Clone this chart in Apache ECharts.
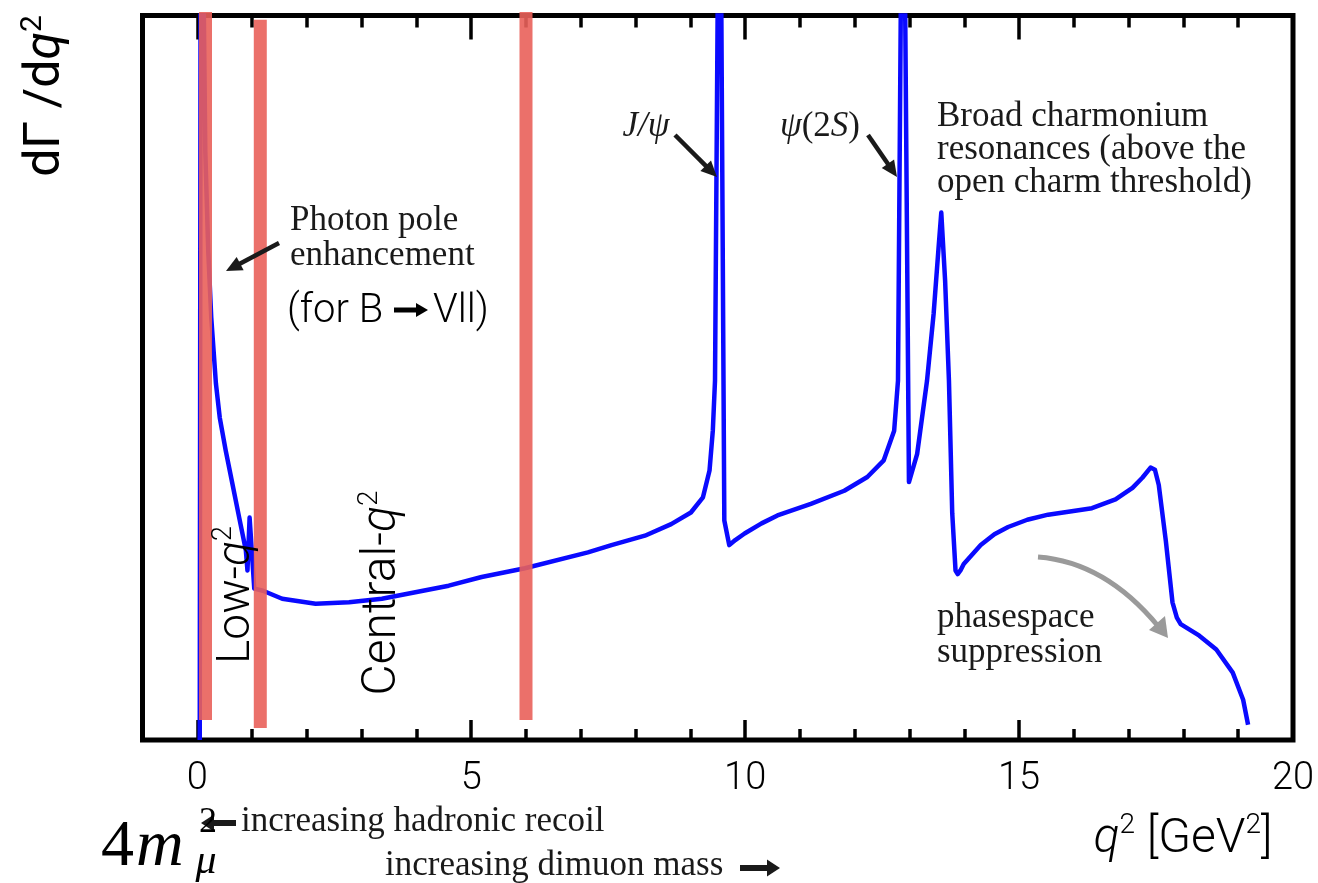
<!DOCTYPE html>
<html><head><meta charset="utf-8">
<script src="https://cdn.jsdelivr.net/npm/echarts@6/dist/echarts.min.js"></script>
<style>html,body{margin:0;padding:0;background:#fff}#c{width:1318px;height:883px}</style>
</head><body><div id="c"></div>
<script>
// ---- data ----
const majorTicks = [0, 5, 10, 15, 20];
const minorTicks = [-1, 1, 2, 3, 4, 6, 7, 8, 9, 11, 12, 13, 14, 16, 17, 18, 19];
const curveQ2 = [0.045, 0.065, 0.146, 0.2, 0.255, 0.34, 0.41, 0.52, 0.64, 0.765, 0.886, 0.916, 0.955, 0.975, 1.0, 1.04, 1.2, 1.55, 2.16, 2.77, 3.37, 3.98, 4.59, 5.19, 5.98, 7.13, 7.56, 8.17, 8.65, 9.01, 9.23, 9.35, 9.41, 9.45, 9.535, 9.62, 9.71, 9.82, 9.99, 10.3, 10.59, 11.20, 11.81, 12.23, 12.53, 12.72, 12.79, 12.88, 12.99, 13.14, 13.32, 13.44, 13.53, 13.58, 13.65, 13.72, 13.78, 13.84, 13.88, 13.93, 13.99, 14.30, 14.55, 14.80, 15.15, 15.53, 16.33, 16.76, 17.07, 17.25, 17.40, 17.48, 17.55, 17.68, 17.80, 17.88, 17.95, 18.29, 18.60, 18.90, 19.09, 19.18];
const curveRate = [0, 140, 81.3, 67.5, 58.3, 49.2, 44.5, 39.9, 35.4, 30.7, 26.2, 23.4, 30.7, 30.8, 25.5, 20.9, 20.6, 19.5, 18.8, 19.0, 19.5, 20.4, 21.3, 22.5, 23.7, 25.9, 26.9, 28.2, 29.8, 31.4, 33.5, 37.2, 42.7, 49.6, 140, 30.3, 26.9, 27.6, 28.5, 29.9, 31.0, 32.6, 34.4, 36.3, 38.6, 42.7, 49.6, 140, 35.6, 39.5, 49.6, 58.8, 67.9, 72.8, 63.4, 49.6, 31.3, 23.4, 22.9, 23.4, 24.3, 26.9, 28.4, 29.4, 30.4, 31.1, 32.0, 33.2, 34.8, 36.2, 37.6, 37.3, 35.2, 27.4, 19.0, 16.9, 16.0, 14.4, 12.5, 9.3, 5.55, 2.1];
const bandQ2 = [0.15, 1.15, 6.0];
const bandTop = [100.5, 99.4, 100.5];
const bandBottom = [2.75, 1.65, 2.75];

// ---- chart ----
const chart = echarts.init(document.getElementById('c'));
const SANS = 'Roboto, "Liberation Sans", sans-serif';
const SERIF = '"Liberation Serif", "DejaVu Serif", serif';

function xAx(position, ticks, len, labels) {
  return {
    type: 'value', min: -1, max: 20, position: position,
    axisLine: { show: false }, splitLine: { show: false },
    axisTick: { show: true, inside: true, length: len, customValues: ticks,
      lineStyle: { color: '#000', width: 3.5 } },
    axisLabel: labels ? { show: true, customValues: majorTicks, fontSize: 38,
      fontFamily: SANS, fontWeight: 300, color: '#000', margin: 20 } : { show: false }
  };
}

const series = [{
  type: 'line', xAxisIndex: 0, yAxisIndex: 0,
  data: curveQ2.map((q, i) => [q, curveRate[i]]),
  showSymbol: false, symbol: 'none', smooth: false, clip: true,
  lineStyle: { color: '#0a0aff', width: 4.5, join: 'round' }, z: 2
}];
bandQ2.forEach((q, i) => {
  series.push({
    type: 'line', xAxisIndex: 0, yAxisIndex: 0,
    data: [[q, bandTop[i]], [q, bandBottom[i]]],
    symbol: 'none', clip: false,
    lineStyle: { color: '#e9615a', width: 13, opacity: 0.9, cap: 'butt' }, z: 3
  });
});

function arrow(x1, y1, x2, y2, color, w, hl, hw) {
  const dx = x2 - x1, dy = y2 - y1, L = Math.hypot(dx, dy);
  const ux = dx / L, uy = dy / L, px = -uy, py = ux;
  const bx = x2 - ux * hl, by = y2 - uy * hl;
  return [
    { type: 'line', shape: { x1: x1, y1: y1, x2: bx + ux * 2, y2: by + uy * 2 },
      style: { stroke: color, lineWidth: w }, z: 10 },
    { type: 'polygon', shape: { points: [[x2, y2], [bx + px * hw / 2, by + py * hw / 2], [bx - px * hw / 2, by - py * hw / 2]] },
      style: { fill: color }, z: 10 }
  ];
}

function txt(x, y, text, style) {
  return { type: 'text', x: x, y: y, z: 20,
    style: Object.assign({ text: text, fill: '#1a1a1a', align: 'left', verticalAlign: 'middle' }, style) };
}

const g = [];
// y-axis name
g.push({ type: 'text', x: 46, y: 96, rotation: Math.PI / 2, z: 20,
  style: { text: '{a|dΓ /d}{i|q}{s|2}', align: 'center', verticalAlign: 'middle',
    rich: { a: { fontSize: 50, fontFamily: SANS, fill: '#000', lineHeight: 56 },
            i: { fontSize: 50, fontFamily: SANS, fontStyle: 'italic', fill: '#000', lineHeight: 56 },
            s: { fontSize: 30, fontFamily: SANS, fill: '#000', lineHeight: 30, verticalAlign: 'top' } } } });
// x-axis name
g.push({ type: 'text', x: 1183, y: 840, z: 20,
  style: { text: '{i|q}{s|2}{a| [GeV}{s|2}{a|]}', align: 'center', verticalAlign: 'middle',
    rich: { a: { fontSize: 48, fontFamily: SANS, fontWeight: 300, fill: '#000', lineHeight: 56 },
            i: { fontSize: 48, fontFamily: SANS, fontWeight: 300, fontStyle: 'italic', fill: '#000', lineHeight: 56 },
            s: { fontSize: 28, fontFamily: SANS, fontWeight: 300, fill: '#000', lineHeight: 30, verticalAlign: 'top' } } } });
// region labels
g.push({ type: 'text', x: 237, y: 595, rotation: Math.PI / 2, z: 20,
  style: { text: '{a|Low-}{i|q}{s|2}', align: 'center', verticalAlign: 'middle',
    rich: { a: { fontSize: 46, fontFamily: SANS, fontWeight: 300, fill: '#000', lineHeight: 52 },
            i: { fontSize: 46, fontFamily: SANS, fontWeight: 300, fontStyle: 'italic', fill: '#000', lineHeight: 52 },
            s: { fontSize: 27, fontFamily: SANS, fontWeight: 300, fill: '#000', lineHeight: 28, verticalAlign: 'top' } } } });
g.push({ type: 'text', x: 383, y: 593, rotation: Math.PI / 2, z: 20,
  style: { text: '{a|Central-}{i|q}{s|2}', align: 'center', verticalAlign: 'middle',
    rich: { a: { fontSize: 48, fontFamily: SANS, fontWeight: 300, fill: '#000', lineHeight: 54 },
            i: { fontSize: 48, fontFamily: SANS, fontWeight: 300, fontStyle: 'italic', fill: '#000', lineHeight: 54 },
            s: { fontSize: 28, fontFamily: SANS, fontWeight: 300, fill: '#000', lineHeight: 30, verticalAlign: 'top' } } } });
// annotations
g.push(txt(290, 238, 'Photon pole\nenhancement', { font: '35px ' + SERIF, lineHeight: 35 }));
g.push(txt(287, 312, '(for B', { font: '300 40px ' + SANS, fill: '#000' }));
g.push(...arrow(394, 310, 428, 310, '#000', 5, 12, 14));
g.push(txt(433, 312, 'Vll)', { font: '300 40px ' + SANS, fill: '#000' }));
g.push(...arrow(279, 243, 226, 271, '#1a1a1a', 4.5, 16, 15));
g.push(txt(646, 127, 'J/ψ', { font: 'italic 35px ' + SERIF, align: 'center' }));
g.push(...arrow(675, 135, 717, 177, '#1a1a1a', 4.5, 16, 15));
g.push({ type: 'text', x: 820, y: 127, z: 20,
  style: { text: '{i|ψ}{a|(2}{i|S}{a|)}', align: 'center', verticalAlign: 'middle',
    rich: { a: { fontSize: 35, fontFamily: SERIF, fill: '#1a1a1a' },
            i: { fontSize: 35, fontFamily: SERIF, fontStyle: 'italic', fill: '#1a1a1a' } } } });
g.push(...arrow(868, 135, 897, 177, '#1a1a1a', 4.5, 16, 15));
g.push(txt(937, 150, 'Broad charmonium\nresonances (above the\nopen charm threshold)', { font: '35px ' + SERIF, lineHeight: 33 }));
g.push(txt(937, 635, 'phasespace\nsuppression', { font: '35px ' + SERIF, lineHeight: 35 }));
// grey curved arrow
g.push({ type: 'bezierCurve', z: 10,
  shape: { x1: 1038, y1: 557, x2: 1158, y2: 626, cpx1: 1105, cpy1: 562 },
  style: { stroke: '#9a9a9a', lineWidth: 5, fill: null } });
g.push({ type: 'polygon', z: 10,
  shape: { points: [[1168, 638], [1149, 630], [1165, 616]] }, style: { fill: '#9a9a9a' } });
// bottom notes
g.push({ type: 'text', x: 101, y: 848, z: 20,
  style: { text: '{a|4}{i|m}', align: 'left', verticalAlign: 'middle',
    rich: { a: { fontSize: 66, fontFamily: SERIF, fill: '#000' },
            i: { fontSize: 66, fontFamily: SERIF, fontStyle: 'italic', fill: '#000', padding: [0, 0, 0, 2] } } } });
g.push(txt(208, 823, '2', { font: '36px ' + SERIF, fill: '#000', align: 'center' }));
g.push(txt(206, 862, 'μ', { font: 'italic 42px ' + SERIF, fill: '#000', align: 'center' }));
g.push(...arrow(236, 823, 201, 823, '#1a1a1a', 6, 13, 17));
g.push(txt(241, 822, 'increasing hadronic recoil', { font: '35px ' + SERIF }));
g.push(txt(385, 866, 'increasing dimuon mass', { font: '35px ' + SERIF }));
g.push(...arrow(740, 868, 780, 868, '#1a1a1a', 6, 13, 17));

chart.setOption({
  animation: false,
  backgroundColor: '#fff',
  grid: { left: 142.5, right: 25, top: 15.5, bottom: 143, show: true,
    borderColor: '#000', borderWidth: 5, backgroundColor: 'transparent' },
  xAxis: [
    xAx('bottom', majorTicks, 20, true),
    xAx('bottom', minorTicks, 11, false),
    xAx('top', majorTicks, 24, false),
    xAx('top', minorTicks, 12, false)
  ],
  yAxis: [{ type: 'value', min: 0, max: 100, axisLine: { show: false }, axisTick: { show: false },
    axisLabel: { show: false }, splitLine: { show: false } }],
  series: series,
  graphic: { elements: g }
});
</script></body></html>
